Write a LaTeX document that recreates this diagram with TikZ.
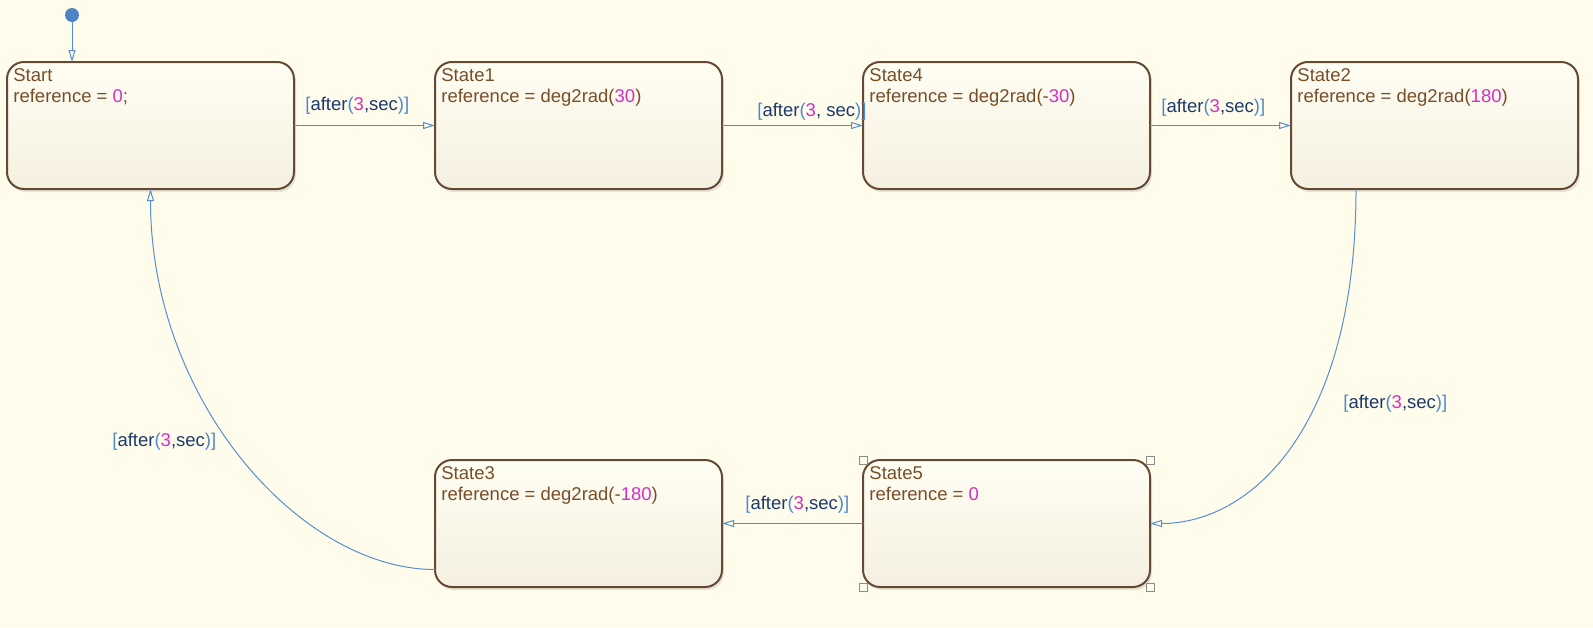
\documentclass[tikz,border=0pt]{standalone}
\usepackage{fontspec}
\setmainfont{Liberation Sans}
\usetikzlibrary{arrows.meta,shadows}
\definecolor{bgcol}{RGB}{255,252,235}
\definecolor{edgecol}{RGB}{100,74,52}
\definecolor{txtcol}{RGB}{120,78,40}
\definecolor{numcol}{RGB}{212,48,196}
\definecolor{transcol}{RGB}{88,142,208}
\definecolor{grdcol}{RGB}{28,58,108}
\definecolor{parcol}{RGB}{78,138,208}
\definecolor{dotcol}{RGB}{76,132,198}
\definecolor{hndcol}{RGB}{140,140,140}
\definecolor{topfill}{RGB}{255,254,243}
\definecolor{botfill}{RGB}{245,240,224}
\newcommand{\refnum}[1]{\textcolor{numcol}{#1}}
\newcommand{\aftersec}[1]{\textcolor{parcol}{[}after\textcolor{parcol}{(}\refnum{3}#1sec\textcolor{parcol}{)]}}

\begin{document}
\begin{tikzpicture}[x=0.5pt,y=-0.5pt,
  state/.style={rectangle,rounded corners=8.5pt,draw=edgecol,line width=1pt,
    minimum width=143.5pt,minimum height=63.5pt,inner sep=0pt,outer sep=0pt,
    top color=topfill,bottom color=botfill,
    drop shadow={shadow xshift=1pt,shadow yshift=-1.5pt,opacity=0.2}},
  statetext/.style={anchor=north west,inner sep=0pt,align=left,text=txtcol,
    font=\fontsize{9.25pt}{10.5pt}\selectfont},
  guard/.style={anchor=west,inner sep=0pt,text=grdcol,font=\fontsize{9.25pt}{11pt}\selectfont},
  trans/.style={draw=transcol,line width=0.5pt,-{Triangle[open,length=6pt,width=3.5pt]}},
  handle/.style={draw=hndcol,line width=0.5pt,fill=bgcol}]
\fill[bgcol] (0,0) rectangle (1593,627);
\useasboundingbox (0,0) rectangle (1593,627);
% states
\node[state] (start) at (150.5,125.5) {};
\node[state] (state1) at (578.5,125.5) {};
\node[state] (state4) at (1006.5,125.5) {};
\node[state] (state2) at (1434.5,125.5) {};
\node[state] (state3) at (578.5,523.5) {};
\node[state] (state5) at (1006.5,523.5) {};
\node[statetext] (starttxt) at ([xshift=3pt,yshift=-3.3pt]start.north west) {Start\\reference = \refnum{0};};
\node[statetext] (state1txt) at ([xshift=3pt,yshift=-3.3pt]state1.north west) {State1\\reference = deg2rad(\refnum{30})};
\node[statetext] (state4txt) at ([xshift=3pt,yshift=-3.3pt]state4.north west) {State4\\reference = deg2rad(-\refnum{30})};
\node[statetext] (state2txt) at ([xshift=3pt,yshift=-3.3pt]state2.north west) {State2\\reference = deg2rad(\refnum{180})};
\node[statetext] (state3txt) at ([xshift=3pt,yshift=-3.3pt]state3.north west) {State3\\reference = deg2rad(-\refnum{180})};
\node[statetext] (state5txt) at ([xshift=3pt,yshift=-3.3pt]state5.north west) {State5\\reference = \refnum{0}};
% selection handles
\foreach \c in {north west,north east,south west,south east}{
  \draw[handle] ([xshift=-2pt,yshift=-2pt]state5.\c) rectangle ([xshift=2pt,yshift=2pt]state5.\c);
}
% transitions
\node[circle,fill=dotcol,minimum size=7pt,inner sep=0pt] (init) at (72,15) {};
\draw[trans] (init) -- (init |- start.north);
\draw[trans] (start.east) -- (state1.west);
\draw[trans] (state1.east) -- (state4.west);
\draw[trans] (state4.east) -- (state2.west);
\draw[trans] ([xshift=-39.25pt]state2.south) .. controls +(0,240) and +(100,0) .. (state5.east);
\draw[trans] (state5.west) -- (state3.east);
\draw[trans] ([yshift=-23pt]state3.west) .. controls +(-135,0) and +(0,211) .. (start.south);
% guards
\node[guard] (g1) at (305,106) {\aftersec{,}};
\node[guard] (g2) at (757,111.5) {\aftersec{, }};
\node[guard] (g3) at (1161,107.5) {\aftersec{,}};
\node[guard] (g4) at (1343,403.5) {\aftersec{,}};
\node[guard] (g5) at (745,505) {\aftersec{,}};
\node[guard] (g6) at (112,442) {\aftersec{,}};
\end{tikzpicture}
\end{document}
